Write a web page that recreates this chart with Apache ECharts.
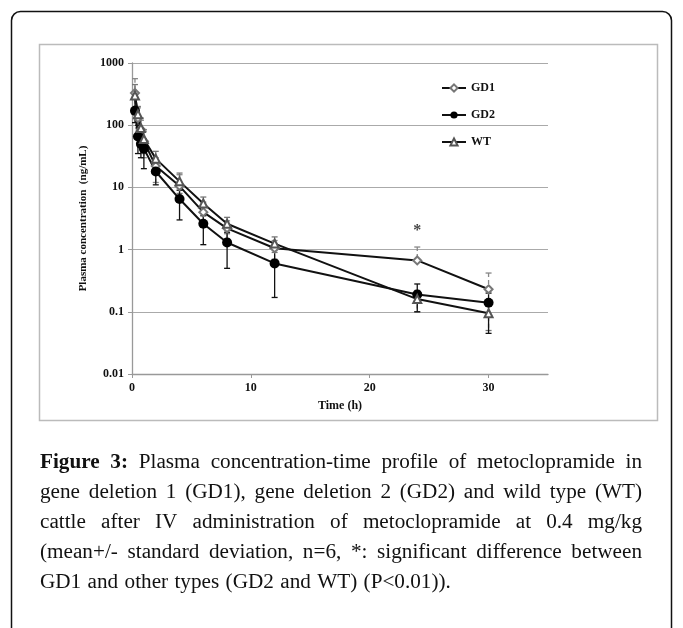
<!DOCTYPE html>
<html>
<head>
  <meta charset="utf-8">
  <title>Figure 3</title>
  <script src="https://cdn.jsdelivr.net/npm/echarts@6/dist/echarts.min.js"></script>
  <style>
    html, body { margin: 0; padding: 0; background: #fff; }
    #main { width: 683px; height: 628px; }
  </style>
</head>
<body>
<div id="main"></div>
<script type="text/javascript">
// sampling times (h)
var times = [0.25, 0.5, 0.75, 1, 2, 4, 6, 8, 12, 24, 30];

// mean concentrations (ng/mL) and error bar bounds
var gd1Mean = [330, 130, 85, 55, 22, 10.5, 4, 2.2, 1.05, 0.67, 0.23];
var gd1Low  = [200, 80, 45, 30, 12, 6, 2.5, 1.5, 0.7, 0.67, 0.23];
var gd1High = [560, 190, 120, 80, 30, 16, 5.8, 2.9, 1.4, 1.1, 0.42];

var gd2Mean = [170, 66, 50, 42, 18, 6.5, 2.6, 1.3, 0.6, 0.19, 0.14];
var gd2Low  = [110, 35, 30, 20, 11, 3, 1.2, 0.5, 0.17, 0.1, 0.045];
var gd2High = [260, 100, 75, 60, 26, 9, 3.5, 1.9, 1.0, 0.28, 0.2];

var wtMean = [300, 150, 90, 60, 29, 12.5, 5.5, 2.6, 1.25, 0.16, 0.095];
var wtLow  = [150, 90, 50, 35, 20, 8, 4, 1.8, 0.9, 0.1, 0.05];
var wtHigh = [450, 200, 130, 85, 38, 17, 7, 3.3, 1.6, 0.22, 0.14];

var seriesNames = ['GD1', 'GD2', 'WT'];
var sigMark = [24, 2.0];

var captionLines = [
  'Figure 3: Plasma concentration-time profile of metoclopramide in',
  'gene deletion 1 (GD1), gene deletion 2 (GD2) and wild type (WT)',
  'cattle after IV administration of metoclopramide at 0.4 mg/kg',
  '(mean+/- standard deviation, n=6, *: significant difference between',
  'GD1 and other types (GD2 and WT) (P<0.01)).'
];

var serif = '"Liberation Serif", "DejaVu Serif", serif';

function pairs(xs, ys) {
  return xs.map(function (x, i) { return [x, ys[i]]; });
}
function bars(lo, hi) {
  return times.map(function (t, i) { return [t, lo[i], hi[i]]; });
}

// error bars drawn as custom series
function errorBars(name, lo, hi, color, dash) {
  return {
    name: name + ' err',
    type: 'custom',
    data: bars(lo, hi),
    encode: { x: 0, y: [1, 2] },
    z: 1,
    silent: true,
    renderItem: function (params, api) {
      var x = api.value(0);
      var top = api.coord([x, api.value(2)]);
      var bot = api.coord([x, api.value(1)]);
      var st = { stroke: color, lineWidth: 1.3, lineDash: dash };
      var cap = 3;
      return {
        type: 'group',
        children: [
          { type: 'line', shape: { x1: top[0], y1: top[1], x2: bot[0], y2: bot[1] }, style: st },
          { type: 'line', shape: { x1: top[0] - cap, y1: top[1], x2: top[0] + cap, y2: top[1] }, style: { stroke: color, lineWidth: 1.3 } },
          { type: 'line', shape: { x1: bot[0] - cap, y1: bot[1], x2: bot[0] + cap, y2: bot[1] }, style: { stroke: color, lineWidth: 1.3 } }
        ]
      };
    }
  };
}

// justified caption built from measured words
var measureCtx = document.createElement('canvas').getContext('2d');
function captionGraphics() {
  var out = [];
  var left = 40, right = 642, y0 = 463, lh = 30, sx = 1.06;
  captionLines.forEach(function (line, li) {
    var words = line.split(' ');
    var items = words.map(function (w, wi) {
      var bold = (li === 0 && wi < 2);
      var font = (bold ? 'bold ' : '') + '20px ' + serif;
      measureCtx.font = font;
      return { text: w, font: font, w: measureCtx.measureText(w).width * sx };
    });
    var sum = items.reduce(function (a, b) { return a + b.w; }, 0);
    var last = li === captionLines.length - 1;
    measureCtx.font = '20px ' + serif;
    var gap = last ? measureCtx.measureText(' ').width * sx * 1.2 : (right - left - sum) / (items.length - 1);
    var x = left;
    items.forEach(function (it) {
      out.push({
        type: 'text', x: x, y: y0 + li * lh, scaleX: sx,
        style: { text: it.text, font: it.font, fill: '#111', verticalAlign: 'middle', align: 'left' }
      });
      x += it.w + gap;
    });
  });
  return out;
}

var chart = echarts.init(document.getElementById('main'));
var option = {
  backgroundColor: '#fff',
  animation: false,
  grid: { left: 132, right: 135, top: 63, bottom: 254 },
  legend: {
    data: seriesNames,
    orient: 'vertical',
    left: 436,
    top: 77,
    itemWidth: 24,
    itemHeight: 9,
    itemGap: 15,
    textStyle: { fontFamily: serif, fontWeight: 'bold', fontSize: 12, color: '#111' }
  },
  xAxis: {
    type: 'value',
    min: 0,
    max: 35,
    interval: 10,
    name: 'Time (h)',
    nameLocation: 'middle',
    nameGap: 26,
    nameTextStyle: { fontFamily: serif, fontWeight: 'bold', fontSize: 12, color: '#111' },
    axisLine: { lineStyle: { color: '#999', width: 1.3 } },
    axisTick: { length: 4, lineStyle: { color: '#999' } },
    axisLabel: { fontFamily: serif, fontWeight: 'bold', fontSize: 12, color: '#111', showMaxLabel: false, margin: 8 },
    splitLine: { show: false }
  },
  yAxis: {
    type: 'log',
    logBase: 10,
    min: 0.01,
    max: 1000,
    name: 'Plasma concentration  (ng/mL)',
    nameLocation: 'middle',
    nameRotate: 90,
    nameGap: 42,
    nameTextStyle: { fontFamily: serif, fontWeight: 'bold', fontSize: 11, color: '#111' },
    axisLine: { show: true, lineStyle: { color: '#999', width: 1.3 } },
    axisTick: { show: true, length: 4, lineStyle: { color: '#999' } },
    axisLabel: {
      fontFamily: serif, fontWeight: 'bold', fontSize: 12, color: '#111', margin: 8,
      formatter: function (v) { return String(+v.toPrecision(3)); }
    },
    splitLine: { lineStyle: { color: '#aaa', width: 1.2 } }
  },
  graphic: [
    { type: 'rect', shape: { x: 11.5, y: 11.5, width: 660, height: 700, r: 9 }, style: { fill: 'none', stroke: '#111', lineWidth: 1.5 }, silent: true },
    { type: 'rect', shape: { x: 39.5, y: 44.5, width: 618, height: 376 }, style: { fill: 'none', stroke: '#bbb', lineWidth: 1.5 }, silent: true }
  ].concat(captionGraphics()),
  series: [
    errorBars('GD1', gd1Low, gd1High, '#888', [4, 3]),
    errorBars('WT', wtLow, wtHigh, '#777', [4, 3]),
    errorBars('GD2', gd2Low, gd2High, '#111', null),
    {
      name: 'GD1', type: 'line', data: pairs(times, gd1Mean), z: 3,
      symbol: 'emptyDiamond', symbolSize: 8,
      lineStyle: { color: '#111', width: 2 },
      itemStyle: { color: '#777', borderWidth: 1.2 }
    },
    {
      name: 'GD2', type: 'line', data: pairs(times, gd2Mean), z: 3,
      symbol: 'circle', symbolSize: 10,
      lineStyle: { color: '#111', width: 2 },
      itemStyle: { color: '#000' }
    },
    {
      name: 'WT', type: 'line', data: pairs(times, wtMean), z: 3,
      symbol: 'emptyTriangle', symbolSize: 8,
      lineStyle: { color: '#111', width: 2 },
      itemStyle: { color: '#555', borderWidth: 1.2 }
    },
    {
      name: 'sig', type: 'scatter', data: [sigMark], symbolSize: 0, silent: true,
      label: { show: true, position: 'inside', formatter: '*', fontFamily: serif, fontWeight: 'bold', fontSize: 16, color: '#111' }
    }
  ]
};
chart.setOption(option);
</script>
</body>
</html>
